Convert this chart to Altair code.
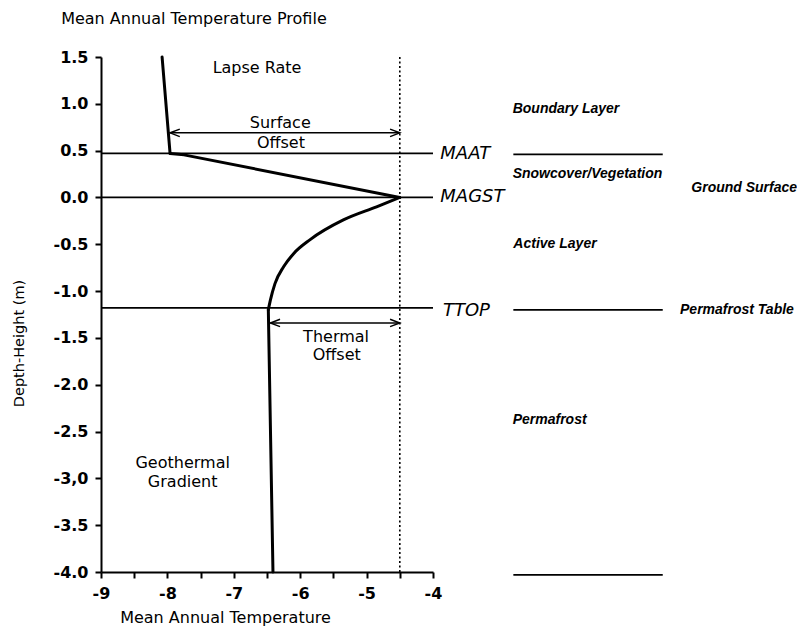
import altair as alt
import pandas as pd

# ---------------- data ----------------
# temperature profile, split into segments
lapse_temp = [-8.08, -7.96]
lapse_depth = [1.5, 0.47]
snow_temp = [-7.96, -7.75, -4.5]
snow_depth = [0.47, 0.455, 0.0]
active_temp = [-6.48, -6.45, -6.38, -6.25, -6.10, -5.85, -5.35, -4.85, -4.5]
active_depth = [-1.20, -1.10, -0.92, -0.74, -0.60, -0.45, -0.24, -0.10, 0.0]
perma_temp = [-6.48, -6.41]
perma_depth = [-1.20, -4.0]

# reference levels
level_names = ["MAAT", "MAGST", "TTOP"]
level_depths = [0.47, 0.0, -1.18]

# layer boundaries drawn in the right-hand legend column
boundary_depths = [0.46, -1.20, -4.03]
boundary_from = -2.79
boundary_to = -0.54

# offsets (arrows)
offset_from = [-7.96, -6.45]
offset_to = [-4.5, -4.5]
offset_depth = [0.69, -1.34]

# MAGST reference (dotted)
magst_temp = -4.5

# axis ticks
x_ticks = [-9, -8.5, -8, -7.5, -7, -6.5, -6, -5.5, -5, -4.5, -4]
x_tick_labels = ["-9", "", "-8", "", "-7", "", "-6", "", "-5", "", "-4"]
y_ticks = [1.5, 1.0, 0.5, 0.0, -0.5, -1.0, -1.5, -2.0, -2.5, -3.0, -3.5, -4.0]
y_tick_labels = ["1.5", "1.0", "0.5", "0.0", "-0.5", "-1.0", "-1.5", "-2.0", "-2.5", "-3,0", "-3.5", "-4.0"]

# annotations
center_texts = ["Lapse Rate", "Surface", "Offset", "Thermal", "Offset", "Geothermal", "Gradient"]
center_t = [-6.65, -6.30, -6.29, -5.46, -5.45, -7.77, -7.77]
center_d = [1.38, 0.80, 0.58, -1.49, -1.68, -2.84, -3.04]

level_label_t = [-3.89, -3.89, -3.85]
level_label_d = [0.46, 0.0, -1.21]

zone_texts = ["Boundary Layer", "Snowcover/Vegetation", "Ground Surface",
              "Active Layer", "Permafrost Table", "Permafrost"]
zone_t = [-2.80, -2.80, -0.11, -2.79, -0.28, -2.80]
zone_d = [0.95, 0.25, 0.10, -0.50, -1.20, -2.38]

title_text = "Mean Annual Temperature Profile"
title_t = -9.60
title_d = 1.91


def expr_from(values, labels):
    e = "''"
    for v, lab in reversed(list(zip(values, labels))):
        e = f"datum.value == {v} ? '{lab}' : ({e})"
    return e


xscale = alt.Scale(domain=[-9, -4], nice=False, zero=False)
yscale = alt.Scale(domain=[-4, 1.5], nice=False, zero=False)

x_axis = alt.Axis(values=x_ticks, labelExpr=expr_from(x_ticks, x_tick_labels),
                  title="Mean Annual Temperature", grid=False,
                  domainColor="black", domainWidth=2, tickColor="black", tickWidth=2, tickSize=6,
                  labelFont="DejaVu Sans", labelFontSize=16, labelFontWeight="bold", labelColor="black",
                  labelPadding=7, labelFlush=False, labelOverlap=False,
                  titleFont="DejaVu Sans", titleFontSize=16, titleFontWeight="normal", titleColor="black",
                  titleX=124, titleY=45, titleBaseline="middle", titleAlign="center")
y_axis = alt.Axis(values=y_ticks, labelExpr=expr_from(y_ticks, y_tick_labels),
                  title="Depth-Height (m)", grid=False,
                  domainColor="black", domainWidth=2, tickColor="black", tickWidth=2, tickSize=6,
                  labelFont="DejaVu Sans", labelFontSize=16, labelFontWeight="bold", labelColor="black",
                  labelPadding=7, labelFlush=False, labelOverlap=False,
                  titleFont="DejaVu Sans", titleFontSize=14.5, titleFontWeight="normal", titleColor="black",
                  titleAngle=270, titleX=-82, titleY=286, titleBaseline="middle", titleAlign="center")


def X(field="t"):
    return alt.X(field, type="quantitative", scale=xscale, axis=x_axis)


def Y(field="d"):
    return alt.Y(field, type="quantitative", scale=yscale, axis=y_axis)


def seg_line(ts, ds, interp):
    df = pd.DataFrame({"t": ts, "d": ds, "i": list(range(len(ts)))})
    return alt.Chart(df).mark_line(color="black", strokeWidth=3, interpolate=interp,
                                   strokeJoin="round", strokeCap="round").encode(
        x=X(), y=Y(), order="i:Q")


lapse = seg_line(lapse_temp, lapse_depth, "linear")
snow = seg_line(snow_temp, snow_depth, "linear")
active = seg_line(active_temp, active_depth, "monotone")
perma = seg_line(perma_temp, perma_depth, "linear")

lev_df = pd.DataFrame({"d": level_depths, "t": [-9] * 3, "t2": [-4] * 3})
levels = alt.Chart(lev_df).mark_rule(color="black", strokeWidth=1.8).encode(
    x=X(), x2="t2", y=Y())

bnd_df = pd.DataFrame({"d": boundary_depths, "t": [boundary_from] * 3, "t2": [boundary_to] * 3})
bounds = alt.Chart(bnd_df).mark_rule(color="black", strokeWidth=1.8).encode(
    x=X(), x2="t2", y=Y())

dot_df = pd.DataFrame({"t": [magst_temp], "d": [1.5], "d2": [-4.0]})
dotted = alt.Chart(dot_df).mark_rule(color="black", strokeWidth=1.6, strokeDash=[2, 2.5]).encode(
    x=X(), y=Y(), y2="d2")

off_df = pd.DataFrame({"t": offset_from, "t2": offset_to, "d": offset_depth})
arrows = alt.Chart(off_df).mark_rule(color="black", strokeWidth=1.5).encode(
    x=X(), x2="t2", y=Y())
head_left = alt.Chart(off_df).mark_point(shape="M2.6,-1L0,0L2.6,1", size=56, filled=False,
                                         color="black", strokeWidth=1.5, opacity=1).encode(
    x=X(), y=Y())
head_right = alt.Chart(off_df).mark_point(shape="M-2.6,-1L0,0L-2.6,1", size=56, filled=False,
                                          color="black", strokeWidth=1.5, opacity=1).encode(
    x=X("t2"), y=Y())

ctr_df = pd.DataFrame({"t": center_t, "d": center_d, "txt": center_texts})
ctr_text = alt.Chart(ctr_df).mark_text(font="DejaVu Sans", fontSize=16, color="black",
                                       align="center", baseline="middle").encode(
    x=X(), y=Y(), text="txt:N")

lvl_df = pd.DataFrame({"t": level_label_t, "d": level_label_d, "txt": level_names})
lvl_text = alt.Chart(lvl_df).mark_text(font="DejaVu Sans", fontSize=18, fontStyle="italic",
                                       color="black", align="left", baseline="middle").encode(
    x=X(), y=Y(), text="txt:N")

zone_df = pd.DataFrame({"t": zone_t, "d": zone_d, "txt": zone_texts})
zone_text = alt.Chart(zone_df).mark_text(font="Liberation Sans", fontSize=14, fontStyle="italic",
                                         fontWeight="bold", color="black",
                                         align="left", baseline="middle").encode(
    x=X(), y=Y(), text="txt:N")

ttl_df = pd.DataFrame({"t": [title_t], "d": [title_d], "txt": [title_text]})
ttl_text = alt.Chart(ttl_df).mark_text(font="DejaVu Sans", fontSize=16, color="black",
                                       align="left", baseline="middle").encode(
    x=X(), y=Y(), text="txt:N")

chart = alt.layer(
    levels, bounds, dotted, arrows, head_left, head_right,
    lapse, snow, active, perma,
    ctr_text, lvl_text, zone_text, ttl_text
).properties(
    width=332, height=515,
    autosize=alt.AutoSizeParams(type="none"),
    padding={"left": 93, "top": 49, "right": 364, "bottom": 54},
    background="white",
).configure_view(strokeWidth=0)

chart.save("out.html", embed_options={"renderer": "svg", "actions": False})
